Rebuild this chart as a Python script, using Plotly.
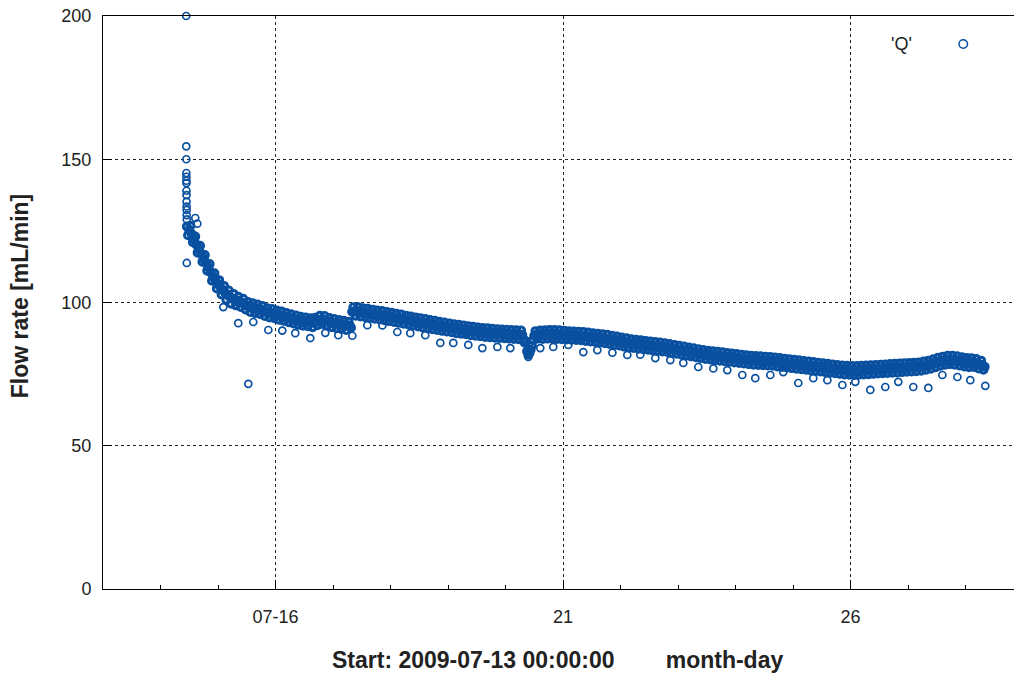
import plotly.graph_objects as go
import pandas as pd

# ---------------- data ----------------
# startup burst of readings on 07-14 just before the regular record
startup_times = ["2009-07-14 10:44", "2009-07-14 10:45", "2009-07-14 10:46", "2009-07-14 10:47",
                 "2009-07-14 10:48", "2009-07-14 10:49", "2009-07-14 10:50", "2009-07-14 10:51",
                 "2009-07-14 10:52", "2009-07-14 10:53", "2009-07-14 10:54", "2009-07-14 10:55",
                 "2009-07-14 10:56", "2009-07-14 10:57", "2009-07-14 10:58"]
startup_q = [200.0, 154.5, 150.0, 145.2, 143.9, 142.5, 141.7, 139.0, 137.5, 135.2,
             133.5, 132.3, 130.5, 129.0, 113.8]

# readings on the full hour (middle of the band), 2009-07-14 11:00 .. 2009-07-28 08:00
hourly_start = "2009-07-14 11:00"
q_hourly = [
    126.5, 125.2, 123.9, 122.0, 120.2, 118.6, 117.0, 115.4, 113.9, 112.3,
    110.5, 108.9, 107.6, 106.4, 105.3, 104.3, 103.4, 102.6, 101.9, 101.3,
    101.0, 100.5, 100.2, 99.9, 99.5, 98.9, 98.5, 98.2, 98.0, 97.8,
    97.7, 97.4, 97.1, 96.7, 96.4, 96.3, 96.1, 95.9, 95.6, 95.5,
    95.3, 95.0, 94.7, 94.5, 94.3, 94.1, 93.9, 93.6, 93.5, 93.4,
    93.3, 93.1, 93.0, 93.1, 93.4, 93.8, 94.0, 93.9, 93.7, 93.3,
    93.0, 92.8, 92.6, 92.5, 92.4, 92.2, 92.0, 91.9, 92.0, 96.8,
    96.9, 96.8, 96.7, 96.6, 96.4, 96.3, 96.2, 96.0, 95.9, 95.8,
    95.6, 95.5, 95.4, 95.3, 95.1, 95.0, 94.8, 94.7, 94.5, 94.3,
    94.2, 94.0, 93.8, 93.7, 93.5, 93.4, 93.2, 93.1, 92.9, 92.8,
    92.6, 92.5, 92.3, 92.1, 92.0, 91.9, 91.7, 91.6, 91.4, 91.3,
    91.2, 91.0, 90.9, 90.7, 90.6, 90.5, 90.4, 90.3, 90.2, 90.0,
    90.0, 89.8, 89.7, 89.6, 89.5, 89.5, 89.4, 89.3, 89.2, 89.2,
    89.1, 89.1, 89.0, 89.0, 88.9, 88.9, 88.8, 88.8, 88.7, 88.7,
    88.7, 86.0, 83.0, 82.3, 85.0, 88.4, 88.7, 88.8, 88.7, 88.8,
    88.8, 88.9, 89.0, 88.9, 88.9, 88.8, 88.8, 88.7, 88.6, 88.6,
    88.5, 88.4, 88.4, 88.4, 88.3, 88.2, 88.1, 88.0, 87.9, 87.8,
    87.7, 87.6, 87.5, 87.4, 87.3, 87.2, 87.1, 86.9, 86.8, 86.6,
    86.5, 86.4, 86.2, 86.0, 85.9, 85.7, 85.6, 85.5, 85.4, 85.3,
    85.2, 85.1, 85.0, 84.9, 84.8, 84.7, 84.6, 84.5, 84.4, 84.3,
    84.2, 84.1, 83.9, 83.8, 83.6, 83.5, 83.3, 83.2, 83.0, 82.9,
    82.7, 82.6, 82.4, 82.3, 82.1, 82.0, 81.8, 81.7, 81.6, 81.5,
    81.4, 81.3, 81.2, 81.1, 81.0, 80.9, 80.8, 80.7, 80.6, 80.5,
    80.4, 80.3, 80.2, 80.1, 80.0, 79.9, 79.8, 79.8, 79.7, 79.7,
    79.6, 79.6, 79.5, 79.5, 79.4, 79.3, 79.2, 79.1, 79.0, 78.9,
    78.8, 78.7, 78.6, 78.5, 78.4, 78.3, 78.2, 78.1, 78.0, 77.9,
    77.8, 77.7, 77.6, 77.5, 77.4, 77.3, 77.2, 77.1, 77.0, 76.9,
    76.8, 76.7, 76.6, 76.5, 76.4, 76.4, 76.3, 76.3, 76.2, 76.2,
    76.3, 76.3, 76.4, 76.4, 76.5, 76.5, 76.6, 76.6, 76.7, 76.7,
    76.8, 76.8, 76.9, 76.9, 77.0, 77.0, 77.1, 77.1, 77.2, 77.2,
    77.3, 77.3, 77.4, 77.4, 77.5, 77.5, 77.6, 77.8, 77.9, 78.1,
    78.3, 78.5, 78.8, 79.0, 79.3, 79.5, 79.7, 79.8, 79.9, 79.9,
    79.8, 79.7, 79.6, 79.4, 79.3, 79.1, 79.0, 78.9, 79.0, 78.9,
    78.6, 78.3, 78.1, 77.6,
]

# readings on the half hour (upper / lower edge of the band), 2009-07-14 11:30 .. 2009-07-28 07:30
half_start = "2009-07-14 11:30"
q_half = [
    123.5, 126.8, 121.0, 123.0, 117.4, 119.8, 114.2, 116.6, 111.1, 113.4,
    107.6, 110.2, 104.9, 107.8, 102.8, 105.8, 101.0, 104.2, 99.6, 103.0,
    99.0, 102.0, 98.4, 101.3, 97.6, 100.2, 96.7, 99.7, 96.3, 99.3,
    96.0, 98.8, 95.3, 98.0, 94.8, 97.7, 94.5, 97.2, 94.0, 96.9,
    93.6, 96.3, 93.1, 95.9, 92.7, 95.5, 92.2, 95.0, 91.9, 94.8,
    91.7, 94.5, 91.4, 94.7, 92.1, 95.4, 92.5, 95.3, 92.0, 94.6,
    91.4, 94.2, 91.0, 93.9, 90.8, 93.6, 90.4, 93.3, 91.2, 98.3,
    95.4, 98.3, 95.1, 98.0, 94.9, 97.8, 94.6, 97.5, 94.3, 97.2,
    94.1, 97.0, 93.8, 96.7, 93.5, 96.4, 93.2, 96.1, 92.9, 95.8,
    92.6, 95.4, 92.3, 95.1, 92.0, 94.8, 91.6, 94.5, 91.3, 94.2,
    91.0, 93.9, 90.7, 93.6, 90.4, 93.3, 90.1, 93.0, 89.9, 92.7,
    89.6, 92.4, 89.3, 92.2, 89.1, 92.0, 88.9, 91.7, 88.6, 91.5,
    88.4, 91.3, 88.2, 91.1, 88.0, 91.0, 87.9, 90.8, 87.7, 90.7,
    87.6, 90.6, 87.5, 90.5, 87.4, 90.4, 87.3, 90.3, 87.2, 90.2,
    87.2, 86.5, 81.8, 83.5, 86.8, 90.0, 87.4, 90.2, 87.3, 90.3,
    87.4, 90.4, 87.5, 90.4, 87.3, 90.3, 87.2, 90.1, 87.1, 90.0,
    87.0, 89.9, 86.9, 89.8, 86.8, 89.7, 86.6, 89.5, 86.4, 89.3,
    86.2, 89.1, 86.0, 88.9, 85.8, 88.7, 85.5, 88.4, 85.2, 88.1,
    85.0, 87.8, 84.6, 87.5, 84.3, 87.2, 84.1, 87.0, 83.9, 86.8,
    83.7, 86.6, 83.5, 86.4, 83.3, 86.2, 83.1, 86.0, 82.9, 85.8,
    82.7, 85.5, 82.4, 85.2, 82.1, 84.9, 81.8, 84.6, 81.5, 84.3,
    81.2, 84.0, 80.9, 83.7, 80.6, 83.4, 80.3, 83.2, 80.1, 83.0,
    79.9, 82.8, 79.7, 82.6, 79.5, 82.4, 79.3, 82.2, 79.1, 82.0,
    78.9, 81.8, 78.7, 81.6, 78.5, 81.4, 78.3, 81.3, 78.2, 81.2,
    78.1, 81.1, 78.0, 81.0, 77.9, 80.8, 77.7, 80.6, 77.5, 80.4,
    77.3, 80.2, 77.1, 80.0, 76.9, 79.8, 76.7, 79.6, 76.5, 79.4,
    76.3, 79.2, 76.1, 79.0, 75.9, 78.8, 75.7, 78.6, 75.5, 78.4,
    75.3, 78.2, 75.1, 78.0, 74.9, 77.9, 74.8, 77.8, 74.7, 77.8,
    74.8, 77.9, 74.9, 78.0, 75.0, 78.1, 75.1, 78.2, 75.2, 78.3,
    75.3, 78.4, 75.4, 78.5, 75.5, 78.6, 75.6, 78.7, 75.7, 78.8,
    75.8, 78.9, 75.9, 79.0, 76.0, 79.1, 76.2, 79.4, 76.5, 79.7,
    76.9, 80.2, 77.4, 80.7, 77.9, 81.1, 78.3, 81.4, 78.5, 81.4,
    78.3, 81.2, 78.0, 80.9, 77.7, 80.6, 77.4, 80.5, 77.5, 80.3,
    77.0, 79.7, 76.5,
]

# isolated readings off the main band
extra_times = [
    "2009-07-14 14:31", "2009-07-14 15:22", "2009-07-15 02:13", "2009-07-15 08:28",
    "2009-07-15 12:39", "2009-07-15 14:44", "2009-07-15 21:00", "2009-07-16 02:50",
    "2009-07-16 08:15", "2009-07-16 14:31", "2009-07-16 20:47", "2009-07-17 02:12",
    "2009-07-17 08:04", "2009-07-17 14:20", "2009-07-17 20:36", "2009-07-18 02:50",
    "2009-07-18 08:15", "2009-07-18 14:31", "2009-07-18 20:47", "2009-07-19 02:12",
    "2009-07-19 08:28", "2009-07-19 14:20", "2009-07-19 20:36", "2009-07-20 02:00",
    "2009-07-20 09:31", "2009-07-20 14:31", "2009-07-20 19:56", "2009-07-21 02:12",
    "2009-07-21 08:28", "2009-07-21 14:20", "2009-07-21 20:36", "2009-07-22 02:50",
    "2009-07-22 08:15", "2009-07-22 14:31", "2009-07-22 20:47", "2009-07-23 02:12",
    "2009-07-23 08:28", "2009-07-23 14:44", "2009-07-23 20:34", "2009-07-24 02:50",
    "2009-07-24 08:15", "2009-07-24 14:31", "2009-07-24 19:56", "2009-07-25 02:12",
    "2009-07-25 08:28", "2009-07-25 14:20", "2009-07-25 20:36", "2009-07-26 02:00",
    "2009-07-26 08:15", "2009-07-26 14:31", "2009-07-26 19:56", "2009-07-27 02:12",
    "2009-07-27 08:28", "2009-07-27 14:20", "2009-07-27 20:36", "2009-07-28 02:00",
    "2009-07-28 08:15",
]
extra_q = [
    129.5, 127.5, 98.4, 92.8,
    71.6, 93.2, 90.4, 90.2,
    89.3, 87.6, 89.4, 88.6,
    88.4, 92.1, 92.0, 89.7,
    89.3, 88.6, 85.9, 85.9,
    85.2, 84.1, 84.5, 84.1,
    81.0, 84.1, 84.5, 85.2,
    82.7, 83.4, 82.5, 81.7,
    81.8, 80.6, 79.9, 78.9,
    77.5, 77.0, 76.4, 74.7,
    73.6, 74.7, 75.7, 71.9,
    73.6, 72.9, 71.2, 72.3,
    69.5, 70.5, 72.3, 70.5,
    70.2, 74.7, 74.0, 72.9,
    70.9,
]

x_ticks = ["2009-07-16", "2009-07-21", "2009-07-26"]
x_ticktext = ["07-16", "21", "26"]
x_minor = ["2009-07-%02d" % d for d in range(13, 29)]
y_ticks = [0, 50, 100, 150, 200]
x_range = ["2009-07-13 00:00", "2009-07-28 20:14"]

# ---------------- figure ----------------
band_times = (list(pd.date_range(hourly_start, periods=len(q_hourly), freq="h"))
              + list(pd.date_range(half_start, periods=len(q_half), freq="h")))
band_values = q_hourly + q_half
iso_times = list(pd.to_datetime(startup_times)) + list(pd.to_datetime(extra_times))
iso_values = startup_q + extra_q

BLUE = "#0a50a0"
FONT = "Liberation Sans, Arial, sans-serif"

fig = go.Figure()
# dense part of the record: overlapping rings merge into a solid band
fig.add_trace(go.Scatter(
    x=band_times, y=band_values, mode="markers", name="'Q'",
    marker=dict(symbol="circle-open", size=7, color=BLUE, line=dict(width=3, color=BLUE)),
    cliponaxis=False, showlegend=False,
))
# isolated readings: single open rings
fig.add_trace(go.Scatter(
    x=iso_times, y=iso_values, mode="markers", name="'Q'",
    marker=dict(symbol="circle-open", size=7, color=BLUE, line=dict(width=1.7, color=BLUE)),
    cliponaxis=False, showlegend=False,
))

axis_common = dict(
    showline=True, linecolor="black", linewidth=1, mirror=True,
    ticks="inside", ticklen=9, tickcolor="black", tickwidth=1,
    showgrid=True, gridcolor="#222222", griddash="dot", gridwidth=1,
    zeroline=False, tickfont=dict(family=FONT, size=18, color="#222222"),
)

fig.update_layout(
    width=1014, height=677,
    margin=dict(l=103, r=0, t=16, b=88),
    paper_bgcolor="white", plot_bgcolor="white",
    font=dict(family=FONT, color="#222222"),
    xaxis=dict(type="date", range=x_range, tickmode="array", tickvals=x_ticks,
               ticktext=x_ticktext, ticklabelstandoff=11,
               minor=dict(tickmode="array", tickvals=x_minor, ticks="inside", ticklen=4,
                          tickcolor="black", showgrid=False),
               **axis_common),
    yaxis=dict(range=[0, 200], tickmode="array", tickvals=y_ticks, ticklabelstandoff=7,
               **axis_common),
)

# axis titles (gnuplot style, bold)
fig.add_annotation(
    text="Start: 2009-07-13 00:00:00" + "\u00a0" * 8 + "month-day",
    xref="paper", yref="paper", x=0.4985, y=-0.124, xanchor="center", yanchor="middle",
    showarrow=False, font=dict(family=FONT, size=23, color="#222222", weight="bold"),
)
fig.add_annotation(
    text="Flow rate [mL/min]", textangle=-90,
    xref="paper", yref="paper", x=-0.0911, y=0.511, xanchor="center", yanchor="middle",
    showarrow=False, font=dict(family=FONT, size=23, color="#222222", weight="bold"),
)

# gnuplot-style key: label left, sample symbol right
fig.add_annotation(
    text="'Q'", xref="paper", yref="paper", x=(901 - 103) / 911, y=(589 - 44) / 573,
    xanchor="center", yanchor="middle", showarrow=False,
    font=dict(family=FONT, size=18, color="#222222"),
)
fig.add_shape(
    type="circle", xref="paper", yref="paper",
    x0=(959 - 103) / 911, x1=(967.5 - 103) / 911,
    y0=(589 - 48.2) / 573, y1=(589 - 39.8) / 573,
    line=dict(color=BLUE, width=1.5),
)

fig.write_html("out.html")
